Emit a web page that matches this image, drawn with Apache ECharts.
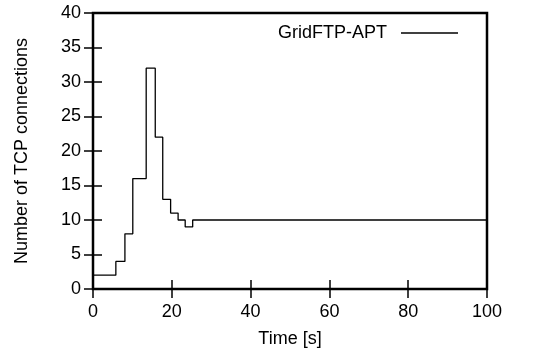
<!DOCTYPE html>
<html>
<head>
<meta charset="utf-8">
<script src="https://cdn.jsdelivr.net/npm/echarts@6/dist/echarts.min.js"></script>
<style>
html,body{margin:0;padding:0;background:#fff;}
#c{width:533px;height:353px;}
</style>
</head>
<body>
<div id="c"></div>
<script>
var timeS = [0, 5.8, 8.1, 10.1, 13.5, 15.8, 17.7, 19.7, 21.6, 23.4, 25.3, 100];
var connections = [2, 4, 8, 16, 32, 22, 13, 11, 10, 9, 10, 10];
var seriesName = 'GridFTP-APT';
var xTicks = [0, 20, 40, 60, 80, 100];
var yTicks = [0, 5, 10, 15, 20, 25, 30, 35, 40];

var FONT = '"Liberation Sans", Arial, Helvetica, sans-serif';
var FS = 18;
var data = timeS.map(function (t, i) { return [t, connections[i]]; });

var chart = echarts.init(document.getElementById('c'), null, {renderer: 'canvas'});
var tickStyle = {show: true, inside: true, length: 9, lineStyle: {color: '#000', width: 1.5}};
chart.setOption({
  animation: false,
  backgroundColor: '#fff',
  textStyle: {fontFamily: FONT, color: '#000'},
  grid: {left: 93, right: 46, top: 13, bottom: 62, show: true, borderColor: '#000', borderWidth: 2.5, backgroundColor: 'transparent'},
  legend: {
    show: true,
    data: [seriesName],
    right: 70, top: 19,
    align: 'right',
    icon: 'rect',
    itemWidth: 57, itemHeight: 1.3,
    itemStyle: {color: '#000'},
    textStyle: {fontFamily: FONT, fontSize: FS, color: '#000', padding: [0, 9, 0, 0]}
  },
  xAxis: [{
    type: 'value', min: xTicks[0], max: xTicks[xTicks.length - 1], interval: 20,
    position: 'bottom',
    name: 'Time [s]', nameLocation: 'middle', nameGap: 41,
    nameTextStyle: {fontFamily: FONT, fontSize: FS, color: '#000'},
    axisLine: {show: false},
    axisTick: tickStyle,
    axisLabel: {fontFamily: FONT, fontSize: FS, color: '#000', margin: 14},
    splitLine: {show: false}
  }, {
    type: 'value', min: 0, max: 100, interval: 20, position: 'top',
    axisLine: {show: false}, axisTick: tickStyle, axisLabel: {show: false}, splitLine: {show: false}
  }],
  yAxis: [{
    type: 'value', min: yTicks[0], max: yTicks[yTicks.length - 1], interval: 5,
    position: 'left',
    name: 'Number of TCP connections', nameLocation: 'middle', nameGap: 62, nameRotate: 90,
    nameTextStyle: {fontFamily: FONT, fontSize: FS, color: '#000'},
    axisLine: {show: false},
    axisTick: tickStyle,
    axisLabel: {fontFamily: FONT, fontSize: FS, color: '#000', margin: 12},
    splitLine: {show: false}
  }, {
    type: 'value', min: 0, max: 40, interval: 5, position: 'right',
    axisLine: {show: false}, axisTick: tickStyle, axisLabel: {show: false}, splitLine: {show: false}
  }],
  series: [{
    name: seriesName,
    type: 'line',
    step: 'end',
    data: data,
    symbol: 'none',
    lineStyle: {color: '#000', width: 1.3},
    itemStyle: {color: '#000'}
  }]
});
</script>
</body>
</html>
